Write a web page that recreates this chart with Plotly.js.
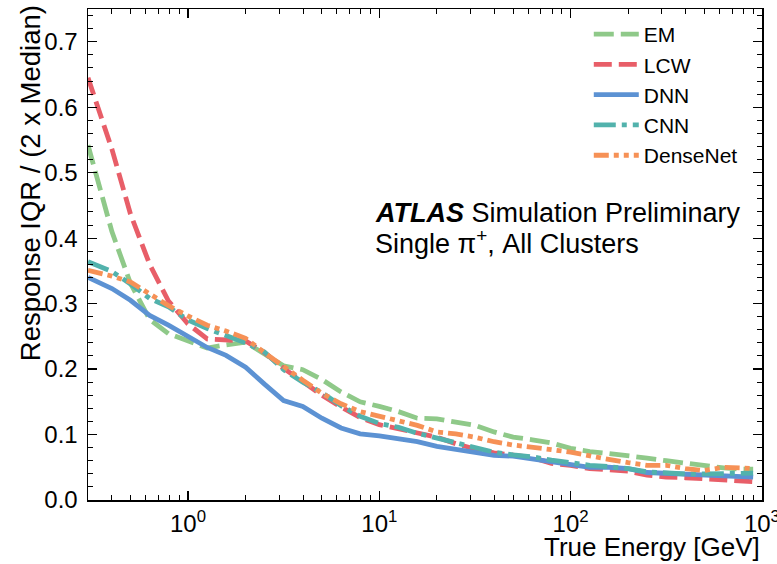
<!DOCTYPE html>
<html>
<head>
<meta charset="utf-8">
<script src="https://cdn.plot.ly/plotly-3.0.1.min.js"></script>
<style>
  html, body { margin: 0; padding: 0; background: #fff; }
  #chart { width: 777px; height: 564px; }
</style>
</head>
<body>
<div id="chart"></div>
<script>
// True energy bin centres [GeV]
const energy = [0.3, 0.4, 0.5, 0.63, 0.79, 1.0, 1.26, 1.58, 2.0, 2.51, 3.16, 3.98, 5.01, 6.31, 7.94,
  10.0, 12.6, 15.8, 20.0, 25.1, 31.6, 39.8, 50.1, 63.1, 79.4, 100, 126, 158, 200, 251, 316, 398, 501, 631, 794, 900];

const emValues = [0.542, 0.410, 0.331, 0.276, 0.254, 0.242, 0.232, 0.237, 0.241, 0.223, 0.205, 0.199, 0.184, 0.165, 0.150,
  0.143, 0.135, 0.125, 0.124, 0.119, 0.114, 0.104, 0.096, 0.092, 0.087, 0.079, 0.074, 0.071, 0.068, 0.064, 0.060, 0.056, 0.053, 0.049, 0.047, 0.047];

const lcwValues = [0.645, 0.536, 0.437, 0.360, 0.304, 0.269, 0.246, 0.245, 0.243, 0.225, 0.201, 0.181, 0.160, 0.142, 0.126,
  0.115, 0.109, 0.102, 0.096, 0.086, 0.078, 0.072, 0.068, 0.065, 0.056, 0.053, 0.048, 0.046, 0.044, 0.038, 0.035, 0.034, 0.032, 0.030, 0.028, 0.028];

const dnnValues = [0.340, 0.323, 0.305, 0.282, 0.267, 0.249, 0.233, 0.221, 0.203, 0.177, 0.152, 0.143, 0.125, 0.110, 0.101,
  0.098, 0.094, 0.089, 0.082, 0.077, 0.072, 0.068, 0.067, 0.063, 0.058, 0.054, 0.050, 0.050, 0.048, 0.042, 0.041, 0.040, 0.038, 0.037, 0.036, 0.035];

const cnnValues = [0.364, 0.349, 0.330, 0.308, 0.295, 0.275, 0.262, 0.251, 0.240, 0.226, 0.199, 0.180, 0.164, 0.144, 0.128,
  0.117, 0.111, 0.102, 0.095, 0.088, 0.081, 0.073, 0.069, 0.066, 0.061, 0.057, 0.053, 0.051, 0.048, 0.043, 0.041, 0.040, 0.040, 0.040, 0.041, 0.041];

const denseNetValues = [0.351, 0.342, 0.333, 0.315, 0.297, 0.281, 0.267, 0.258, 0.247, 0.225, 0.203, 0.183, 0.163, 0.147, 0.135,
  0.128, 0.121, 0.114, 0.104, 0.101, 0.096, 0.089, 0.084, 0.081, 0.077, 0.073, 0.067, 0.062, 0.057, 0.053, 0.053, 0.048, 0.045, 0.050, 0.049, 0.048];

const seriesNames = ['EM', 'LCW', 'DNN', 'CNN', 'DenseNet'];
const xTickVals = [1, 10, 100, 1000];
const xTickText = ['10<sup>0</sup>', '10<sup>1</sup>', '10<sup>2</sup>', '10<sup>3</sup>'];

const styles = [
  {color: 'rgb(143,201,137)', dash: '20px,7px'},
  {color: 'rgb(232,94,104)', dash: '18px,7px'},
  {color: 'rgb(92,146,211)', dash: 'solid'},
  {color: 'rgb(82,178,172)', dash: '22px,6px,5px,6px'},
  {color: 'rgb(246,145,86)', dash: '15px,5px,5px,5px,5px,5px'}
];
const allValues = [emValues, lcwValues, dnnValues, cnnValues, denseNetValues];

const traces = seriesNames.map((name, i) => ({
  x: energy,
  y: allValues[i],
  name: name,
  type: 'scatter',
  mode: 'lines',
  line: {color: styles[i].color, width: 4.8, dash: styles[i].dash},
  hoverinfo: 'x+y+name'
}));

// minor tick positions on the log axis (2..9 per decade)
const minorX = [];
[0.1, 1, 10, 100].forEach(d => { for (let k = 2; k <= 9; k++) minorX.push(k * d); });

const FONT = 'Liberation Sans, Arial, Helvetica, sans-serif';

const layout = {
  width: 777,
  height: 564,
  margin: {l: 88, r: 15, t: 9, b: 64},
  paper_bgcolor: '#fff',
  plot_bgcolor: '#fff',
  font: {family: FONT, color: '#000', size: 22},
  showlegend: true,
  legend: {
    x: 0.743, y: 0.99, xanchor: 'left', yanchor: 'top',
    bgcolor: 'rgba(0,0,0,0)', borderwidth: 0,
    font: {family: FONT, size: 21, color: '#000'},
    itemwidth: 45, tracegroupgap: 0
  },
  xaxis: {
    type: 'log',
    range: [Math.log10(0.3), 3.0005],
    tickmode: 'array', tickvals: xTickVals, ticktext: xTickText,
    ticks: 'inside', ticklen: 9, tickwidth: 1.2, tickcolor: '#000',
    mirror: 'allticks', showline: true, linecolor: '#000', linewidth: 1.5,
    showgrid: false, zeroline: false,
    tickfont: {family: FONT, size: 24, color: '#000'},
    ticklabelstandoff: 2,
    ticklabeloverflow: 'allow',
    minor: {tickmode: 'array', tickvals: minorX, ticks: 'inside', ticklen: 5, tickwidth: 1, tickcolor: '#000', showgrid: false}
  },
  yaxis: {
    range: [0, 0.75],
    tickmode: 'linear', tick0: 0, dtick: 0.1, tickformat: '.1f',
    ticks: 'inside', ticklen: 9, tickwidth: 1.2, tickcolor: '#000',
    mirror: 'allticks', showline: true, linecolor: '#000', linewidth: 1.5,
    showgrid: false, zeroline: false,
    tickfont: {family: FONT, size: 24, color: '#000'},
    ticklabelstandoff: 4,
    minor: {tickmode: 'linear', tick0: 0, dtick: 0.02, ticks: 'inside', ticklen: 5, tickwidth: 1, tickcolor: '#000', showgrid: false}
  },
  annotations: [
    {text: 'True Energy [GeV]', xref: 'paper', yref: 'paper', x: 1, y: -0.096,
     xanchor: 'right', yanchor: 'middle', showarrow: false,
     font: {family: FONT, size: 26, color: '#000'}},
    {text: 'Response IQR / (2 x Median)', xref: 'paper', yref: 'paper', x: -0.086, y: 1.012,
     xanchor: 'center', yanchor: 'top', textangle: -90, showarrow: false,
     font: {family: FONT, size: 27.5, color: '#000'}},
    {text: '<b><i>ATLAS</i></b> Simulation Preliminary', xref: 'paper', yref: 'paper', x: 0.4228, y: 0.585,
     xanchor: 'left', yanchor: 'middle', showarrow: false,
     font: {family: FONT, size: 27, color: '#000'}},
    {text: 'Single \u03c0<sup>+</sup>, All Clusters', xref: 'paper', yref: 'paper', x: 0.4228, y: 0.526,
     xanchor: 'left', yanchor: 'middle', showarrow: false,
     font: {family: FONT, size: 27, color: '#000'}}
  ]
};

Plotly.newPlot('chart', traces, layout, {displayModeBar: false, staticPlot: true});
</script>
</body>
</html>
